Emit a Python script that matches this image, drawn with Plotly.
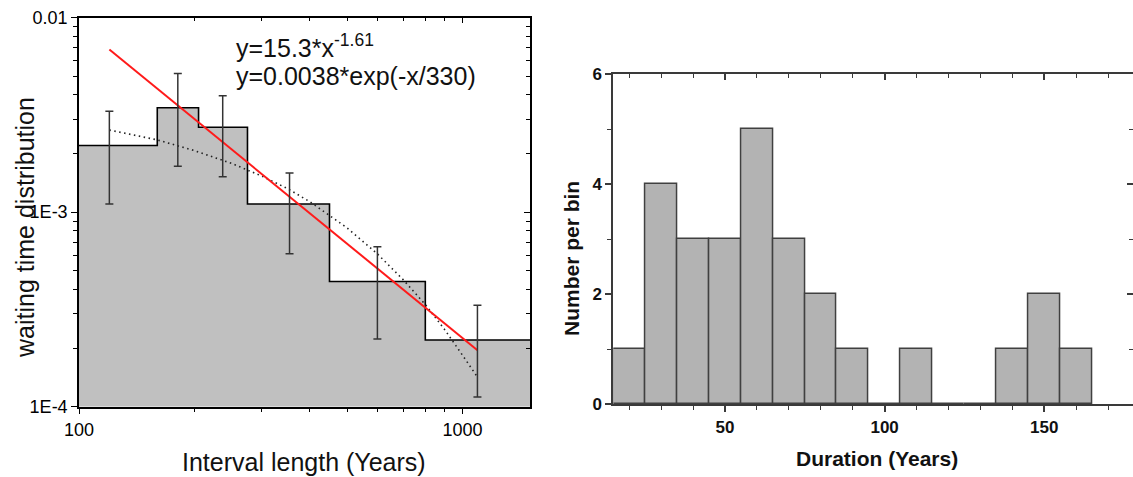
import math
import plotly.graph_objects as go

# ---------------- data: left panel (waiting time distribution) ----------------
bin_edges = [100, 160, 205, 275, 450, 800, 1500]
bin_density = [2.2e-3, 3.44e-3, 2.73e-3, 1.1e-3, 4.4e-4, 2.2e-4]

point_x = [120, 181, 237, 354, 600, 1094]
point_y = [2.2e-3, 3.44e-3, 2.74e-3, 1.1e-3, 4.43e-4, 2.22e-4]
point_err = [1.1e-3, 1.72e-3, 1.22e-3, 4.9e-4, 2.2e-4, 1.1e-4]

power_fit_x = [120, 1094]
power_fit_y = [6.85e-3, 1.95e-4]

exp_fit_x = [120, 160, 200, 250, 300, 350, 400, 500, 600, 700, 800, 900, 1000, 1094]
exp_fit_y = [2.64e-3, 2.35e-3, 2.07e-3, 1.78e-3, 1.53e-3, 1.32e-3, 1.13e-3,
             8.3e-4, 6.1e-4, 4.5e-4, 3.35e-4, 2.48e-4, 1.84e-4, 1.42e-4]

left_xticks = [100, 1000]
left_xticktext = ["100", "1000"]
left_yticks = [1e-4, 1e-3, 1e-2]
left_yticktext = ["1E-4", "1E-3", "0.01"]

# ---------------- data: right panel (durations histogram) ----------------
dur_centers = [20, 30, 40, 50, 60, 70, 80, 90, 100, 110, 120, 130, 140, 150, 160]
dur_counts = [1, 4, 3, 3, 5, 3, 2, 1, 0, 1, 0, 0, 1, 2, 1]
right_xticks = [50, 100, 150]
right_yticks = [0, 2, 4, 6]

# ---------------- layout geometry ----------------
W, H = 1133, 477
def px_x(p):
    return p / W
def px_y(p):
    return 1 - p / H

FONT = "Liberation Sans, Arial, Helvetica, sans-serif"
BLACK = "#000000"
DARK = "#3a3a3a"

fig = go.Figure()

# base for the filled step histogram (axis floor)
fig.add_trace(go.Scatter(x=[bin_edges[0], bin_edges[-1]], y=[left_yticks[0], left_yticks[0]],
                         mode="lines", line=dict(width=0, color="rgba(0,0,0,0)"),
                         showlegend=False, hoverinfo="skip", xaxis="x", yaxis="y"))
fig.add_trace(go.Scatter(x=bin_edges, y=bin_density + [bin_density[-1]],
                         mode="lines", line=dict(shape="hv", color=BLACK, width=1.6),
                         fill="tonexty", fillcolor="#c0c0c0",
                         showlegend=False, xaxis="x", yaxis="y"))
# exponential fit (dotted)
fig.add_trace(go.Scatter(x=exp_fit_x, y=exp_fit_y, mode="lines",
                         line=dict(color="#222222", width=1.6, dash="1.5px,3.5px"),
                         showlegend=False, xaxis="x", yaxis="y"))
# power-law fit (red)
fig.add_trace(go.Scatter(x=power_fit_x, y=power_fit_y, mode="lines",
                         line=dict(color="#ff1a1a", width=2),
                         showlegend=False, xaxis="x", yaxis="y"))
# error bars
fig.add_trace(go.Scatter(x=point_x, y=point_y, mode="markers",
                         marker=dict(size=1, color="rgba(0,0,0,0)"),
                         error_y=dict(type="data", array=point_err, visible=True,
                                      color="#333333", thickness=1.5, width=4),
                         showlegend=False, xaxis="x", yaxis="y"))

# right histogram
fig.add_trace(go.Bar(x=dur_centers, y=dur_counts, width=10,
                     marker=dict(color="#b3b3b3", line=dict(color="#404040", width=1.5)),
                     showlegend=False, xaxis="x3", yaxis="y3"))

# invisible helpers so the mirrored (top/right) axes get drawn
fig.add_trace(go.Scatter(x=[200], y=[1e-3], mode="markers", marker=dict(opacity=0),
                         hoverinfo="skip", showlegend=False, xaxis="x2", yaxis="y2"))
fig.add_trace(go.Scatter(x=[50], y=[3], mode="markers", marker=dict(opacity=0),
                         hoverinfo="skip", showlegend=False, xaxis="x4", yaxis="y4"))

left_dom_x = [px_x(79), px_x(530)]
left_dom_y = [px_y(406.7), px_y(17.5)]
right_dom_x = [px_x(613.3), 1.0]
right_dom_y = [px_y(404.3), px_y(74)]

xr_left = [2, math.log10(1500)]
yr_left = [-4, -2]
xr_right = [15, 177.8]
yr_right = [0, 6]

x_minor_left = [200, 300, 400, 500, 600, 700, 800, 900]
y_minor_left = [k * 1e-4 for k in range(2, 10)] + [k * 1e-3 for k in range(2, 10)]
x_minor_right = [20, 30, 40, 60, 70, 80, 90, 110, 120, 130, 140, 160, 170]
y_minor_right = [1, 3, 5]

tickfont_left = dict(family=FONT, size=18, color=BLACK)
tickfont_right = dict(family=FONT, size=17, color="#111111", weight="bold")

common = dict(showgrid=False, zeroline=False, showline=True, automargin=False)

fig.update_layout(
    width=W, height=H, autosize=False,
    margin=dict(l=0, r=0, t=0, b=0),
    paper_bgcolor="white", plot_bgcolor="white",
    bargap=0, showlegend=False,
    xaxis=dict(domain=left_dom_x, anchor="y", type="log", range=xr_left,
               tickmode="array", tickvals=left_xticks, ticktext=left_xticktext,
               ticks="outside", ticklen=6, tickwidth=1.2, tickcolor=BLACK,
               linecolor=BLACK, linewidth=1.5, tickfont=tickfont_left,
               minor=dict(tickmode="array", tickvals=x_minor_left, ticks="outside",
                          ticklen=4, tickwidth=1, tickcolor=BLACK, showgrid=False),
               **common),
    yaxis=dict(domain=left_dom_y, anchor="x", type="log", range=yr_left,
               tickmode="array", tickvals=left_yticks, ticktext=left_yticktext,
               ticks="outside", ticklen=6, tickwidth=1.2, tickcolor=BLACK,
               linecolor=BLACK, linewidth=1.5, tickfont=tickfont_left,
               minor=dict(tickmode="array", tickvals=y_minor_left, ticks="outside",
                          ticklen=4, tickwidth=1, tickcolor=BLACK, showgrid=False),
               **common),
    xaxis2=dict(overlaying="x", anchor="y2", side="top", type="log", range=xr_left,
                tickmode="array", tickvals=left_xticks, showticklabels=False,
                ticks="inside", ticklen=6, tickwidth=1.2, tickcolor=BLACK,
                linecolor=BLACK, linewidth=1.5,
                minor=dict(tickmode="array", tickvals=x_minor_left, ticks="inside",
                           ticklen=4, tickwidth=1, tickcolor=BLACK, showgrid=False),
                **common),
    yaxis2=dict(overlaying="y", anchor="x2", side="right", type="log", range=yr_left,
                tickmode="array", tickvals=left_yticks, showticklabels=False,
                ticks="inside", ticklen=6, tickwidth=1.2, tickcolor=BLACK,
                linecolor=BLACK, linewidth=1.5,
                minor=dict(tickmode="array", tickvals=y_minor_left, ticks="inside",
                           ticklen=4, tickwidth=1, tickcolor=BLACK, showgrid=False),
                **common),
    xaxis3=dict(domain=right_dom_x, anchor="y3", range=xr_right,
                tickmode="array", tickvals=right_xticks,
                ticks="outside", ticklen=6, tickwidth=1.5, tickcolor=DARK,
                linecolor=DARK, linewidth=2, tickfont=tickfont_right,
                minor=dict(tickmode="array", tickvals=x_minor_right, ticks="outside",
                           ticklen=4, tickwidth=1.2, tickcolor=DARK, showgrid=False),
                **common),
    yaxis3=dict(domain=right_dom_y, anchor="x3", range=yr_right,
                tickmode="array", tickvals=right_yticks,
                ticks="outside", ticklen=6, tickwidth=1.5, tickcolor=DARK,
                linecolor=DARK, linewidth=2, tickfont=tickfont_right,
                minor=dict(tickmode="array", tickvals=y_minor_right, ticks="outside",
                           ticklen=4, tickwidth=1.2, tickcolor=DARK, showgrid=False),
                **common),
    xaxis4=dict(overlaying="x3", anchor="y4", side="top", range=xr_right,
                tickmode="array", tickvals=right_xticks, showticklabels=False,
                ticks="inside", ticklen=6, tickwidth=1.5, tickcolor=DARK,
                linecolor=DARK, linewidth=2,
                minor=dict(tickmode="array", tickvals=x_minor_right, ticks="inside",
                           ticklen=4, tickwidth=1.2, tickcolor=DARK, showgrid=False),
                **common),
    yaxis4=dict(overlaying="y3", anchor="x4", side="right", range=yr_right,
                tickmode="array", tickvals=right_yticks, showticklabels=False,
                ticks="inside", ticklen=6, tickwidth=1.5, tickcolor=DARK,
                linecolor=DARK, linewidth=2,
                minor=dict(tickmode="array", tickvals=y_minor_right, ticks="inside",
                           ticklen=4, tickwidth=1.2, tickcolor=DARK, showgrid=False),
                **common),
)

ann_font = dict(family=FONT, size=25, color="#111111")
title_right_font = dict(family=FONT, size=21, color="#111111", weight="bold")
annotations = [
    dict(text="y=15.3*x<sup>-1.61</sup>", x=px_x(234), y=px_y(46), xanchor="left", yanchor="middle",
         font=ann_font),
    dict(text="y=0.0038*exp(-x/330)", x=px_x(234), y=px_y(76), xanchor="left", yanchor="middle",
         font=ann_font),
    dict(text="Interval length (Years)", x=px_x(304), y=px_y(462), xanchor="center", yanchor="middle",
         font=ann_font),
    dict(text="waiting time distribution", x=px_x(25), y=px_y(228), xanchor="center", yanchor="middle",
         textangle=-90, font=ann_font),
    dict(text="Duration (Years)", x=px_x(877), y=px_y(458), xanchor="center", yanchor="middle",
         font=title_right_font),
    dict(text="Number per bin", x=px_x(571), y=px_y(259), xanchor="center", yanchor="middle",
         textangle=-90, font=title_right_font),
]
for a in annotations:
    a.update(xref="paper", yref="paper", showarrow=False)
fig.update_layout(annotations=annotations)

fig.write_html("out.html")
